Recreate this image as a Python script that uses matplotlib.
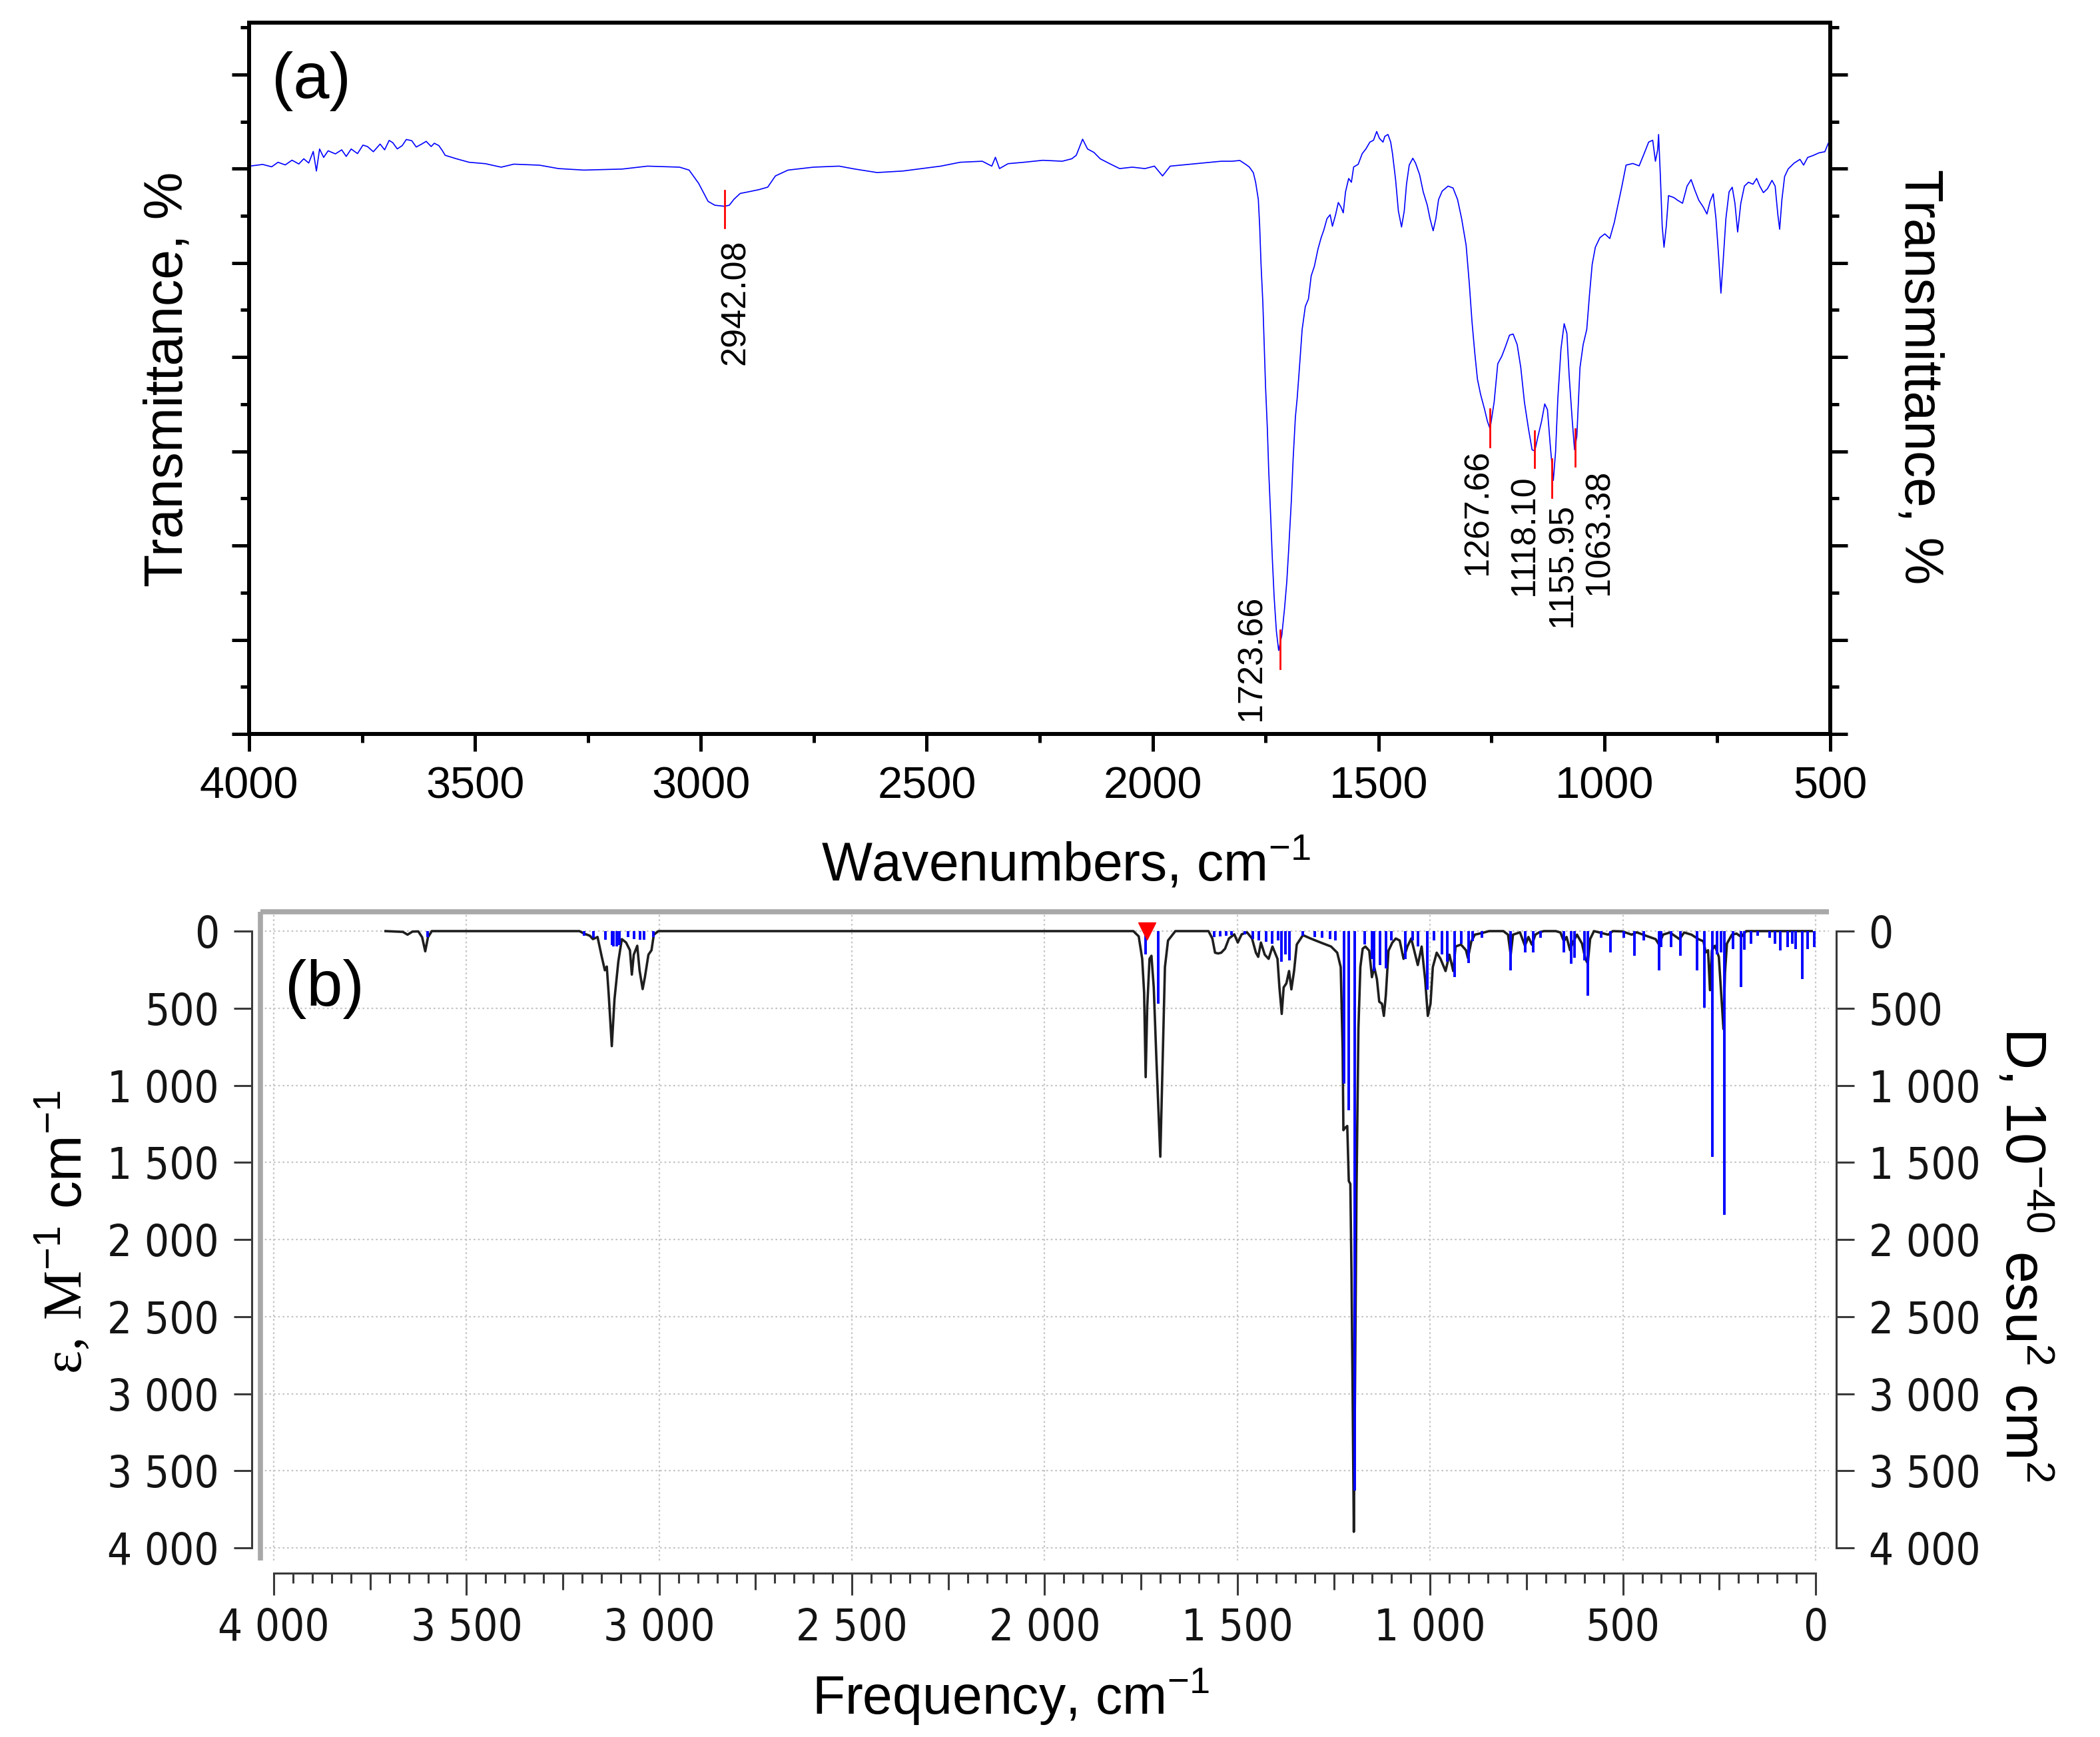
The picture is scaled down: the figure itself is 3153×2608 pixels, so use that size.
import os
import matplotlib
matplotlib.use("Agg")
import matplotlib.pyplot as plt
from matplotlib import font_manager
from matplotlib.font_manager import FontProperties
from matplotlib.ticker import MultipleLocator

plt.rcParams["font.family"] = ["Liberation Sans", "DejaVu Sans"]
plt.rcParams["mathtext.fontset"] = "custom"
plt.rcParams["mathtext.rm"] = "Liberation Serif"
plt.rcParams["mathtext.sf"] = "Liberation Sans"
plt.rcParams["mathtext.it"] = "Liberation Sans:italic"
plt.rcParams["mathtext.bf"] = "Liberation Sans:bold"

# ---------- (a) measured FTIR spectrum ----------
ftir_wn = [
    3999, 3970, 3950, 3936, 3920, 3905, 3890, 3879, 3868, 3858,
    3851, 3844, 3835, 3825, 3809, 3795, 3785, 3774, 3760, 3748,
    3738, 3725, 3710, 3700, 3690, 3682, 3672, 3661, 3652, 3640,
    3630, 3618, 3608, 3597, 3590, 3580, 3572, 3566, 3541, 3513,
    3477, 3442, 3414, 3357, 3315, 3259, 3174, 3118, 3047, 3026,
    3005, 2984, 2969, 2948, 2937, 2927, 2913, 2892, 2871, 2852,
    2835, 2807, 2751, 2694, 2659, 2610, 2553, 2469, 2426, 2377,
    2356, 2348, 2339, 2320, 2285, 2243, 2200, 2179, 2169, 2155,
    2144, 2130, 2116, 2095, 2073, 2045, 2017, 1996, 1978, 1961,
    1904, 1848,
    1824, 1807, 1794, 1786, 1777, 1772, 1766, 1763, 1760, 1756,
    1753, 1750, 1746, 1743, 1739, 1735, 1731, 1726, 1721, 1714,
    1708, 1703, 1699, 1693, 1689, 1684, 1680, 1675, 1669, 1662,
    1655, 1649, 1642, 1634, 1627, 1621, 1614, 1607, 1602, 1595,
    1589, 1583, 1578, 1573, 1566, 1560, 1555, 1545, 1536, 1528,
    1519, 1511, 1504, 1498, 1490, 1486, 1479, 1473, 1469, 1462,
    1456, 1449, 1443, 1438, 1432, 1424, 1418, 1409, 1401, 1392,
    1386, 1379, 1373, 1367, 1359, 1346, 1335, 1325, 1316, 1306,
    1299, 1293, 1287, 1281, 1274, 1265, 1259, 1253, 1244, 1236,
    1227, 1219, 1210, 1202, 1193, 1185, 1177, 1168, 1160, 1154,
    1147, 1139, 1132, 1126, 1120, 1113, 1108, 1103, 1096, 1089,
    1083, 1078, 1071, 1066, 1061, 1054, 1047, 1039, 1033, 1027,
    1020, 1010, 999, 988, 978, 971, 962, 952, 937, 923,
    912, 902, 893, 887, 882, 880, 876, 872, 868, 863,
    858, 846, 838, 827, 817, 808, 800, 791, 781, 773,
    766, 759, 753, 747, 742, 737, 731, 724, 717, 711,
    705, 698, 690, 681, 671, 663, 656, 648, 639, 629,
    622, 616, 612, 607, 601, 593, 580, 567, 559, 550,
    538, 525, 512, 504, 500,
]
ftir_T = [
    80.27, 80.45, 80.20, 80.68, 80.40, 80.90, 80.50, 81.05, 80.60, 81.83,
    79.75, 82.09, 81.20, 81.90, 81.57, 82.00, 81.30, 82.09, 81.60, 82.50,
    82.35, 81.80, 82.61, 82.00, 83.00, 82.76, 82.10, 82.45, 83.10, 82.97,
    82.30, 82.61, 82.90, 82.35, 82.70, 82.45, 81.90, 81.42, 81.05, 80.68,
    80.53, 80.16, 80.48, 80.37, 80.01, 79.85, 79.96, 80.27, 80.16, 79.85,
    78.45, 76.53, 76.12, 76.01, 76.12, 76.74, 77.37, 77.57, 77.78, 78.04,
    79.23, 79.85, 80.16, 80.27, 79.96, 79.59, 79.75, 80.27, 80.68, 80.79,
    80.27, 81.21, 80.01, 80.53, 80.68, 80.89, 80.79, 81.05, 81.42, 83.13,
    82.09, 81.73, 81.05, 80.53, 80.01, 80.16, 80.01, 80.27, 79.23, 80.27,
    80.53, 80.79,
    80.79, 80.87, 80.46, 80.18, 79.57, 78.56, 76.73, 73.89, 69.84, 65.78,
    61.32, 56.85, 52.39, 47.93, 43.46, 38.60, 34.54, 30.89, 28.86, 30.48,
    33.32, 36.16, 39.41, 44.68, 49.14, 53.61, 55.64, 58.88, 62.94, 65.37,
    66.18, 68.62, 69.63, 71.46, 72.67, 73.49, 74.70, 75.11, 73.89, 75.11,
    76.41, 75.92, 75.31, 77.54, 78.96, 78.56, 80.18, 80.46, 81.60, 82.09,
    82.82, 83.02, 83.95, 83.22, 82.82, 83.43, 83.63, 82.82, 81.60, 78.76,
    75.51, 73.81, 75.51, 78.35, 80.38, 81.11, 80.59, 79.37, 77.54, 76.12,
    74.70, 73.41, 74.70, 76.73, 77.62, 78.15, 77.95, 76.73, 74.70, 71.86,
    67.81, 63.75, 60.50, 57.66, 56.04, 54.42, 53.20, 52.39, 55.23, 59.29,
    60.10, 61.11, 62.33, 62.45, 61.32, 58.88, 55.23, 52.39, 50.16, 50.04,
    51.58, 53.20, 55.03, 54.42, 50.77, 46.91, 49.96, 55.64, 60.91, 63.55,
    62.53, 58.07, 53.20, 50.16, 51.58, 58.88, 61.32, 62.94, 66.59, 69.84,
    71.66, 72.67, 73.08, 72.59, 74.30, 75.92, 77.95, 80.38, 80.55, 80.30,
    81.60, 82.82, 83.02, 80.79, 82.01, 83.63, 79.17, 73.89, 71.66, 73.89,
    77.14, 76.93, 76.65, 76.33, 78.15, 78.84, 77.75, 76.65, 75.92, 75.19,
    76.53, 77.34, 74.70, 70.65, 66.79, 70.24, 74.70, 77.54, 78.03, 76.33,
    73.28, 76.33, 78.15, 78.56, 78.35, 78.96, 78.15, 77.46, 77.87, 78.76,
    78.15, 75.11, 73.57, 76.73, 79.17, 79.98, 80.59, 80.99, 80.38, 81.19,
    81.40, 81.68, 81.80, 82.74, 82.82,
]

# peak picks: label text, marker position, marker top/bottom (T)
peak_labels = ["2942.08", "1723.66", "1267.66", "1118.10", "1155.95", "1063.38"]
peak_wn = [2948, 1718, 1254, 1155, 1116, 1065]
peak_T_hi = [77.7, 31.0, 54.5, 52.2, 49.2, 52.4]
peak_T_lo = [73.7, 26.9, 50.5, 48.3, 45.1, 48.4]

# ---------- (b) calculated spectrum ----------
calc_freq = [
    3710, 3665, 3653, 3640, 3625, 3615, 3607, 3600, 3590, 3207,
    3195, 3180, 3172, 3160, 3149, 3141, 3136, 3131, 3123, 3116,
    3106, 3097, 3086, 3076, 3071, 3066, 3057, 3051, 3043, 3037,
    3028, 3020, 3014, 3002, 1770, 1756, 1747, 1742, 1738, 1734,
    1728, 1723, 1717, 1710, 1700, 1694, 1688, 1680, 1661, 1575,
    1565, 1558, 1550, 1542, 1532, 1522, 1508, 1499, 1489, 1475,
    1462, 1452, 1446, 1439, 1429, 1419, 1409, 1396, 1391, 1385,
    1380, 1373, 1366, 1360, 1353, 1346, 1330, 1310, 1284, 1257,
    1241, 1232, 1227, 1225, 1221, 1215, 1211, 1207, 1204, 1201,
    1198, 1195, 1191, 1186, 1181, 1175, 1168, 1158, 1151, 1145,
    1138, 1132, 1125, 1120, 1115, 1108, 1098, 1089, 1079, 1069,
    1059, 1049, 1032, 1022, 1013, 1006, 999, 993, 983, 973,
    960, 950, 940, 934, 920, 907, 902, 893, 884, 865,
    847, 810, 798, 791, 785, 767, 754, 745, 736, 727,
    717, 705, 674, 662, 653, 646, 637, 631, 619, 606,
    597, 591, 585, 575, 538, 526, 501, 477, 464, 440,
    415, 406, 396, 378, 353, 341, 322, 304, 291, 285,
    279, 274, 269, 261, 251, 243, 239, 235, 230, 217,
    205, 193, 180, 10,
]
calc_eps = [
    0, 5, 23, 3, 2, 40, 131, 40, 0, 0,
    16, 30, 52, 38, 167, 254, 230, 412, 746, 441,
    196, 52, 74, 124, 282, 153, 95, 254, 376, 297,
    153, 124, 23, 0, 0, 34, 180, 400, 947, 497,
    180, 160, 365, 841, 1463, 841, 233, 61, 0, 0,
    48, 140, 145, 140, 114, 48, 21, 74, 21, 8,
    48, 140, 167, 74, 153, 180, 100, 180, 365, 537,
    365, 339, 259, 378, 259, 87, 26, 48, 74, 100,
    140, 233, 762, 1291, 1277, 1264, 1621, 1640, 2217, 3010,
    3896, 3010, 1687, 630, 233, 114, 100, 127, 299, 233,
    312, 458, 471, 550, 418, 127, 74, 48, 61, 180,
    100, 48, 220, 100, 312, 550, 471, 233, 140, 180,
    259, 153, 259, 100, 87, 124, 174, 66, 23, 12,
    0, 0, 23, 153, 23, 8, 95, 38, 88, 23,
    8, 0, 0, 9, 66, 38, 124, 81, 23, 81,
    182, 210, 52, 0, 23, 0, 2, 23, 8, 30,
    52, 88, 23, 9, 52, 9, 23, 52, 66, 138,
    124, 383, 124, 95, 167, 484, 635, 268, 81, 23,
    16, 38, 0, 0,
]

stick_freq = [
    3601, 3195, 3170, 3140, 3123, 3118, 3110, 3104, 3080, 3065,
    3050, 3040, 3015, 1738, 1705, 1560, 1545, 1530, 1515, 1480,
    1460, 1445, 1425, 1410, 1395, 1385, 1375, 1365, 1330, 1300,
    1280, 1260, 1245, 1223, 1212, 1196, 1170, 1150, 1145, 1130,
    1115, 1100, 1065, 1045, 1032, 1008, 990, 970, 955, 937,
    920, 900, 890, 865, 791, 754, 733, 714, 653, 634,
    625, 600, 591, 557, 532, 498, 470, 446, 406, 400,
    375, 350, 307, 288, 267, 255, 245, 237, 214, 193,
    185, 168, 150, 119, 106, 91, 72, 60, 51, 35,
    20, 4,
]
stick_D = [
    40, 30, 45, 55, 90, 100, 100, 90, 40, 50,
    55, 55, 40, 150, 470, 40, 35, 30, 25, 20,
    50, 60, 70, 80, 60, 200, 150, 190, 30, 40,
    45, 50, 60, 990, 1160, 3630, 87, 180, 260, 220,
    240, 60, 180, 60, 100, 380, 60, 150, 200, 300,
    80, 206, 66, 45, 254, 138, 138, 45, 138, 210,
    174, 189, 419, 45, 138, 45, 160, 59, 254, 102,
    102, 160, 254, 498, 1463, 150, 140, 1838, 117, 362,
    120, 81, 30, 45, 81, 124, 102, 80, 117, 311,
    117, 102,
]
selected_freq = 1735   # red marker on the selected mode

W, H = 3153, 2608


def box(x0, y0, x1, y1):
    return [x0 / W, 1 - y1 / H, (x1 - x0) / W, (y1 - y0) / H]


def fpos(x, y):
    return x / W, 1 - y / H


def narrow_font():
    # the lower panel is a screenshot with a narrow UI font
    files = {f.fname for f in font_manager.fontManager.ttflist}
    files |= set(font_manager.findSystemFonts())
    for key, size in [("LiberationSansNarrow-Regular", 52),
                      ("DejaVuSansCondensed.ttf", 47),
                      ("RobotoCondensed-Regular", 48)]:
        for fn in sorted(files):
            if os.path.basename(fn).startswith(key):
                return FontProperties(fname=fn, size=size)
    return FontProperties(family="Liberation Sans", size=45)


fig = plt.figure(figsize=(W / 100, H / 100), dpi=100)

# ---- (a) ----
ax1 = fig.add_axes(box(374, 34, 2748, 1102))
ax1.plot(ftir_wn, ftir_T, color="#0000ff", lw=1.2)
ax1.set_xlim(4000, 500)
ax1.set_ylim(20, 95.5)
ax1.xaxis.set_major_locator(MultipleLocator(500))
ax1.xaxis.set_minor_locator(MultipleLocator(250))
ax1.yaxis.set_major_locator(MultipleLocator(10))
ax1.yaxis.set_minor_locator(MultipleLocator(5))
ax1.tick_params(which="both", direction="out", width=3.6, color="black")
ax1.tick_params(which="major", length=18.7)
ax1.tick_params(which="minor", length=9.4)
ax1.tick_params(axis="x", which="both", top=False, labelsize=48, pad=16)
ax1.tick_params(axis="y", which="both", left=True, right=True, labelleft=False)
for s in ax1.spines.values():
    s.set_linewidth(4.3)

label_at = [(2903, 72.5), (1760.6, 34.7), (1259.3, 50.2),
            (1156.1, 47.5), (1072.1, 44.45), (991.0, 48.1)]
for lab, x, hi, lo, (tx, ty) in zip(peak_labels, peak_wn, peak_T_hi, peak_T_lo, label_at):
    ax1.plot([x, x], [lo, hi], color="#ff0000", lw=2)
    ax1.text(tx, ty, lab, rotation=90, rotation_mode="anchor",
             ha="right", va="baseline", fontsize=37.5)

fig.text(*fpos(408, 147), "(a)", fontsize=70)
fig.text(*fpos(273, 569), "Transmittance, %", rotation=90, rotation_mode="anchor",
         ha="center", va="baseline", fontsize=58)
fig.text(*fpos(2860, 566), "Transmittance, %", rotation=270, rotation_mode="anchor",
         ha="center", va="baseline", fontsize=58)
fig.text(*fpos(1233, 1322), r"Wavenumbers, cm$^{\mathsf{-1}}$", fontsize=58)

# ---- (b) ----
axis_col = "#3a3a3a"
ax2 = fig.add_axes(box(391, 1369, 2746, 2343))
ax2.set_xlim(4034.6, -34.6)
ax2.set_ylim(4082, -125.3)
ax2.set_axisbelow(True)
ax2.grid(True, which="major", color="#c6c6c6", lw=1.6, ls=(0, (1.2, 1.8)))
ax2.plot(calc_freq, calc_eps, color="#1e1e1e", lw=2.6, zorder=3)
ax2.vlines(stick_freq, 0, stick_D, color="#0000ff", lw=2.8, zorder=4)
ax2.plot(selected_freq, 0, marker="v", color="#ff0000", ms=19, zorder=5, clip_on=False)

# light grey frame (top + left only)
for xs, ys in [([0, 1], [1, 1]), ([0, 0], [0, 1])]:
    ax2.plot(xs, ys, transform=ax2.transAxes, color="#a8a8a8", lw=5.5,
             solid_capstyle="butt", clip_on=False, zorder=6)

ax2.spines["top"].set_visible(False)
ax2.spines["left"].set_position(("outward", 9.65))
ax2.spines["right"].set_position(("outward", 7.9))
ax2.spines["bottom"].set_position(("outward", 13.7))
for side in ["left", "right", "bottom"]:
    ax2.spines[side].set_bounds(0, 4000)
    ax2.spines[side].set_color(axis_col)
    ax2.spines[side].set_linewidth(2.2)

fp = narrow_font()
yt = list(range(0, 4001, 500))
xt = list(range(4000, -1, -500))
ax2.set_yticks(yt)
ax2.set_yticklabels([f"{v:,}".replace(",", " ") for v in yt], fontproperties=fp, color="#141414")
ax2.set_xticks(xt)
ax2.set_xticklabels([f"{v:,}".replace(",", " ") for v in xt], fontproperties=fp, color="#141414")
ax2.xaxis.set_minor_locator(MultipleLocator(50))
ax2.tick_params(axis="y", which="major", left=True, right=True, labelleft=True, labelright=True,
                length=19.5, width=2.2, color=axis_col, pad=15.5)
ax2.tick_params(axis="x", which="major", length=23.8, width=2.2, color=axis_col, pad=13)
ax2.tick_params(axis="x", which="minor", length=10.8, width=2.2, color=axis_col)

sec = ax2.secondary_xaxis("bottom")
sec.spines["bottom"].set_position(("outward", 13.7))
sec.spines["bottom"].set_visible(False)
sec.set_ticks(list(range(3750, 0, -500)))
sec.tick_params(axis="x", length=18, width=2.2, color=axis_col, labelbottom=False)

fig.text(*fpos(428, 1510), "(b)", fontsize=70)
fig.text(*fpos(122, 2063), r"$\mathrm{ε,}\,\mathrm{M}^{\mathsf{-1}}$ cm$^{\mathsf{-1}}$",
         rotation=90, rotation_mode="anchor", ha="left", va="baseline", fontsize=60)
fig.text(*fpos(3011, 1542), r"D, 10$^{\mathsf{-40}}$ esu$^{\mathsf{2}}$ cm$^{\mathsf{2}}$",
         rotation=270, rotation_mode="anchor", ha="left", va="baseline", fontsize=62)
fig.text(*fpos(1219, 2573), r"Frequency, cm$^{\mathsf{-1}}$", fontsize=58)

fig.savefig("out.png", dpi=100)
